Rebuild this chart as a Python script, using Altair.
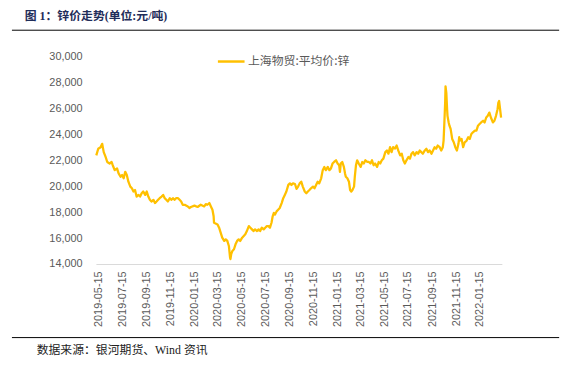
import altair as alt
import pandas as pd

SERIES = "上海物贸:平均价:锌"
TITLE = "图 1：锌价走势(单位:元/吨)"
SOURCE = "数据来源：银河期货、Wind 资讯"
BASE_DATE = "2019-05-15"

# days after 2019-05-15
days = [-5, 0, 6, 10, 14, 19, 23, 29, 34, 37,
        42, 48, 52, 57, 61, 65, 69, 73, 77, 82,
        86, 90, 94, 98, 103, 107, 111, 115, 120, 124,
        128, 132, 136, 141, 145, 149, 153, 157, 162, 166,
        170, 174, 178, 183, 187, 191, 195, 199, 204, 208,
        212, 216, 221, 229, 233, 237, 246, 254, 262, 271,
        275, 279, 284, 288, 292, 295, 296, 305, 309, 313,
        317, 322, 326, 330, 334, 337, 338, 340, 343, 347,
        351, 355, 359, 363, 368, 372, 376, 380, 385, 389,
        393, 397, 401, 406, 410, 414, 418, 423, 427, 431,
        435, 439, 443, 446, 449, 452, 456, 460, 464, 469,
        473, 477, 481, 486, 490, 494, 498, 503, 507, 511,
        515, 519, 523, 528, 532, 536, 540, 544, 549, 553,
        557, 561, 565, 570, 574, 578, 582, 587, 591, 595,
        599, 603, 608, 612, 616, 618, 620, 624, 628, 631,
        633, 637, 641, 644, 647, 650, 654, 656, 659, 662,
        666, 671, 675, 679, 683, 688, 692, 696, 700, 704,
        708, 713, 717, 721, 725, 729, 734, 738, 742, 746,
        750, 754, 759, 763, 767, 772, 776, 780, 784, 788,
        793, 797, 801, 805, 809, 814, 818, 822, 826, 830,
        835, 839, 843, 847, 852, 856, 860, 864, 868, 873,
        877, 881, 883, 885, 887, 888, 890, 892, 893, 896,
        898, 901, 905, 909, 913, 917, 921, 923, 925, 929,
        933, 937, 942, 946, 950, 954, 958, 963, 967, 971,
        975, 979, 984, 988, 992, 996, 1000, 1004, 1009, 1013,
        1017, 1021, 1023, 1025, 1027, 1030]

prices = [22380, 22890, 23010, 23270, 22630, 22250, 21870, 21750, 21870, 21620,
          21240, 21370, 20990, 20730, 20860, 20610, 21110, 20860, 20350, 19970,
          19840, 19590, 19710, 19200, 19330, 19200, 19460, 19590, 19330, 19590,
          19200, 18950, 18820, 18950, 18700, 18820, 18950, 19080, 19200, 19330,
          19080, 18950, 18820, 19080, 18950, 19080, 18950, 19080, 19080, 18950,
          18820, 18570, 18570, 18440, 18320, 18400, 18500, 18400, 18570, 18440,
          18620, 18570, 18700, 18440, 18190, 17680, 17180, 17050, 16800, 16420,
          16030, 15780, 15900, 15780, 15390, 14510, 14380, 14760, 15010, 15140,
          15520, 15780, 15900, 15780, 16030, 16160, 16290, 16540, 16920, 16800,
          16670, 16540, 16670, 16540, 16670, 16540, 16800, 16670, 16800, 16920,
          16920, 16800, 17180, 17680, 17940, 17810, 18060, 18190, 18320, 18700,
          19080, 19330, 19590, 20100, 20220, 20100, 20220, 20170, 19790, 19970,
          20220, 20350, 19970, 19590, 19460, 19590, 19710, 19840, 19970, 19840,
          20100, 20350, 20220, 20610, 21240, 21490, 21240, 21490, 21240, 21370,
          21750, 21870, 22000, 21750, 21620, 21110, 21750, 21870, 21490, 20990,
          20730, 20610, 20350, 19710, 19590, 19710, 19970, 20730, 21620, 22000,
          21750, 21490, 21870, 21750, 22000, 21870, 21870, 21750, 22000, 21620,
          21750, 21490, 21870, 21750, 22000, 22130, 22630, 22760, 22510, 23010,
          22630, 23010, 22910, 23140, 22760, 22380, 22510, 22000, 21750, 22000,
          22250, 22130, 22510, 22630, 22380, 22630, 22510, 22760, 22630, 22510,
          22760, 22890, 22630, 22760, 22510, 22760, 23010, 22890, 23140, 23010,
          22760, 23010, 23520, 24920, 26440, 27710, 27200, 25940, 25430, 24920,
          24670, 24420, 23650, 23390, 23010, 22760, 23270, 23780, 23520, 23650,
          23010, 23390, 23520, 23780, 23650, 24030, 24160, 24290, 24290, 24670,
          24800, 24920, 25050, 24920, 25300, 25430, 25680, 25300, 24920, 25050,
          25430, 25940, 26440, 26570, 26060, 25300]

y_ticks = [14000, 16000, 18000, 20000, 22000, 24000, 26000, 28000, 30000]
x_tick_dates = ["2019-05-15", "2019-07-15", "2019-09-15", "2019-11-15",
                "2020-01-15", "2020-03-15", "2020-05-15", "2020-07-15",
                "2020-09-15", "2020-11-15", "2021-01-15", "2021-03-15",
                "2021-05-15", "2021-07-15", "2021-09-15", "2021-11-15",
                "2022-01-15"]
x_domain = ["2019-05-09", "2022-03-12"]

dates = pd.to_datetime(BASE_DATE) + pd.to_timedelta(days, unit="D")
df = pd.DataFrame({
    "date": dates.strftime("%Y-%m-%d"),
    "price": prices,
    "series": SERIES,
})


def dt(s):
    y, m, d = (int(p) for p in s.split("-"))
    return alt.DateTime(year=y, month=m, date=d, utc=True)


GRAY = "#595959"
LINE = "#FFC000"

line = alt.Chart(df).mark_line(strokeWidth=2.3, strokeJoin="round").encode(
    x=alt.X("date:T",
            scale=alt.Scale(type="utc", domain=[dt(s) for s in x_domain], nice=False),
            axis=alt.Axis(title=None, values=[dt(s) for s in x_tick_dates],
                          labelExpr="utcFormat(datum.value, '%Y-%m-%d')",
                          labelAngle=270, labelAlign="right", labelBaseline="middle",
                          labelPadding=7, labelFont="Liberation Sans", labelFontSize=11,
                          labelColor=GRAY, labelOverlap=False, labelFlush=False,
                          ticks=False, grid=False, domainColor="#D9D9D9", domainWidth=1)),
    y=alt.Y("price:Q",
            scale=alt.Scale(domain=[14000, 30000], nice=False, zero=False),
            axis=alt.Axis(title=None, values=y_ticks,
                          labelExpr="format(datum.value, ',')", labelPadding=14,
                          labelFont="Liberation Sans", labelFontSize=11, labelColor=GRAY,
                          ticks=False, grid=False, domain=False)),
    color=alt.Color("series:N",
                    scale=alt.Scale(domain=[SERIES], range=[LINE]),
                    legend=alt.Legend(title=None, orient="none", legendX=122, legendY=-10,
                                      symbolType="stroke", symbolSize=729,
                                      symbolStrokeWidth=2.5, labelOffset=2,
                                      labelFont="Noto Sans CJK SC", labelFontSize=12,
                                      labelColor=GRAY, padding=0)),
)

title = alt.Chart(pd.DataFrame({"t": [TITLE]})).mark_text(
    align="left", baseline="middle", font="Liberation Serif, Noto Sans CJK SC",
    fontSize=12, fontWeight="bold", color="#1F2D5A"
).encode(text="t:N", x=alt.value(-72), y=alt.value(-41.5))

source = alt.Chart(pd.DataFrame({"t": [SOURCE]})).mark_text(
    align="left", baseline="middle", font="Liberation Serif, Noto Sans CJK SC",
    fontSize=12, color="#222222"
).encode(text="t:N", x=alt.value(-60), y=alt.value(296.7))

top_rule = alt.Chart(pd.DataFrame({"k": ["top"]})).mark_rule(
    color="#000000", strokeWidth=1
).encode(x=alt.value(-85), x2=alt.value(469), y=alt.value(-26.7))

bottom_rule = alt.Chart(pd.DataFrame({"k": ["bottom"]})).mark_rule(
    color="#000000", strokeWidth=1
).encode(x=alt.value(-85), x2=alt.value(469), y=alt.value(284.5))

chart = alt.layer(line, top_rule, bottom_rule, title, source).properties(
    width=411, height=210,
    autosize=alt.AutoSizeParams(type="none"),
    padding={"left": 89, "top": 47, "right": 70, "bottom": 95},
    background="white",
).configure_view(strokeWidth=0)

chart.save("out.html", embed_options={"renderer": "svg", "actions": False})
